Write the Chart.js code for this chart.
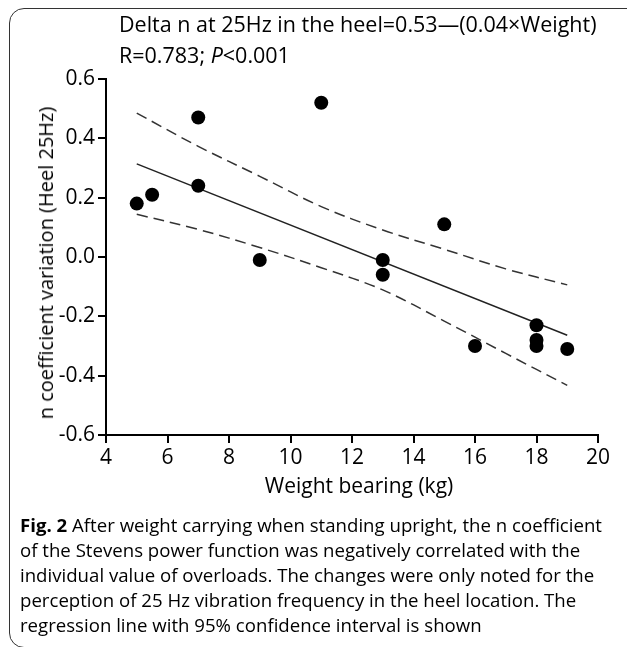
<!DOCTYPE html>
<html>
<head>
<meta charset="utf-8">
<script src="https://cdn.jsdelivr.net/npm/chart.js@4.4.1/dist/chart.umd.min.js"></script>
<style>
  html, body { margin: 0; padding: 0; background: #fff; }
  body { width: 627px; height: 647px; position: relative; overflow: hidden;
         font-family: "Open Sans", "Noto Sans", sans-serif; color: #000; }
  #frame { position: absolute; left: 9px; top: 8px; width: 660px; height: 640px;
           border: 1.5px solid #333; border-radius: 15px; box-sizing: border-box; }
  #plot { position: absolute; left: 0; top: 0; }
  .txt { position: absolute; white-space: nowrap; line-height: 1; }
  .title { font-size: 21.5px; left: 119px; }
  #ytitle { font-size: 20px; left: 46px; top: 263px;
            transform: translate(-50%, -50%) rotate(-90deg); }
  #xtitle { font-size: 21px; left: 359px; top: 475px; transform: translateX(-50%); }
  #caption { position: absolute; left: 20px; top: 513px; font-size: 18px; line-height: 25px;
             white-space: nowrap; transform-origin: 0 0; }
</style>
</head>
<body>
<div id="frame"></div>
<canvas id="plot" width="627" height="647"></canvas>

<div class="txt title" style="top:13px">Delta n at 25Hz in the heel=0.53—(0.04×Weight)</div>
<div class="txt title" style="top:44px">R=0.783; <i>P</i>&lt;0.001</div>
<div class="txt" id="ytitle">n coefficient variation (Heel 25Hz)</div>
<div class="txt" id="xtitle">Weight bearing (kg)</div>
<div id="caption">
  <div><b>Fig. 2</b> After weight carrying when standing upright, the n coefficient</div>
  <div>of the Stevens power function was negatively correlated with the</div>
  <div>individual value of overloads. The changes were only noted for the</div>
  <div>perception of 25 Hz vibration frequency in the heel location. The</div>
  <div>regression line with 95% confidence interval is shown</div>
</div>

<script>
// --- data -----------------------------------------------------------------
var weights = [5, 5.5, 7, 7, 9, 11, 13, 13, 15, 16, 18, 18, 18, 19];
var deltaN = [0.18, 0.21, 0.47, 0.24, -0.01, 0.52, -0.01, -0.06, 0.11, -0.30, -0.23, -0.28, -0.30, -0.31];

var fitX = [5, 19];
var fitY = [0.314, -0.264];

var bandX = [5, 7, 9, 11, 13, 15, 17, 19];
var upperBand = [0.485, 0.373, 0.272, 0.170, 0.091, 0.026, -0.040, -0.094];
var lowerBand = [0.144, 0.093, 0.032, -0.036, -0.111, -0.216, -0.325, -0.433];

var xTicks = [4, 6, 8, 10, 12, 14, 16, 18, 20];
var yTicks = [-0.6, -0.4, -0.2, 0.0, 0.2, 0.4, 0.6];

function pairs(xs, ys) {
  return xs.map(function (x, i) { return { x: x, y: ys[i] }; });
}

// squeeze the caption to the width of the original's narrower typeface
(function () {
  var cap = document.getElementById("caption");
  var first = cap.firstElementChild;
  var r = document.createRange();
  r.selectNodeContents(first);
  var w = r.getBoundingClientRect().width;
  cap.style.transform = "scaleX(" + (582 / w) + ")";
})();

var tickFont = { family: '"Open Sans", "Noto Sans", sans-serif', size: 21 };
var axisStyle = {
  grid: { display: true, drawOnChartArea: false, drawTicks: true, tickLength: 8,
          lineWidth: 2, color: "#000" },
  border: { display: true, width: 2, color: "#000" },
};

new Chart(document.getElementById("plot").getContext("2d"), {
  type: "scatter",
  data: {
    datasets: [
      {
        data: pairs(weights, deltaN),
        pointRadius: 7,
        pointHoverRadius: 7,
        backgroundColor: "#000",
        borderWidth: 0,
      },
      {
        type: "line",
        data: pairs(fitX, fitY),
        borderColor: "#222",
        borderWidth: 1.5,
        pointRadius: 0,
        fill: false,
      },
      {
        type: "line",
        data: pairs(bandX, upperBand),
        borderColor: "#333",
        borderWidth: 1.5,
        borderDash: [11, 6],
        pointRadius: 0,
        tension: 0.35,
        fill: false,
      },
      {
        type: "line",
        data: pairs(bandX, lowerBand),
        borderColor: "#333",
        borderWidth: 1.5,
        borderDash: [11, 6],
        pointRadius: 0,
        tension: 0.35,
        fill: false,
      },
    ],
  },
  options: {
    responsive: false,
    animation: false,
    events: [],
    clip: false,
    layout: { padding: { left: 0, top: 79, right: 29, bottom: 152 } },
    plugins: { legend: { display: false }, tooltip: { enabled: false } },
    scales: {
      x: Object.assign({
        type: "linear", min: 4, max: 20,
        afterBuildTicks: function (s) { s.ticks = xTicks.map(function (v) { return { value: v }; }); },
        afterFit: function (s) { s.height = 60; },
        ticks: { color: "#000", font: tickFont, padding: 2, maxRotation: 0,
                 callback: function (v) { return String(v); } },
      }, axisStyle),
      y: Object.assign({
        type: "linear", min: -0.6, max: 0.6,
        afterBuildTicks: function (s) { s.ticks = yTicks.map(function (v) { return { value: v }; }); },
        afterFit: function (s) { s.width = 106; },
        ticks: { color: "#000", font: tickFont, padding: 3,
                 callback: function (v) { return v.toFixed(1); } },
      }, axisStyle),
    },
  },
});
</script>
</body>
</html>
